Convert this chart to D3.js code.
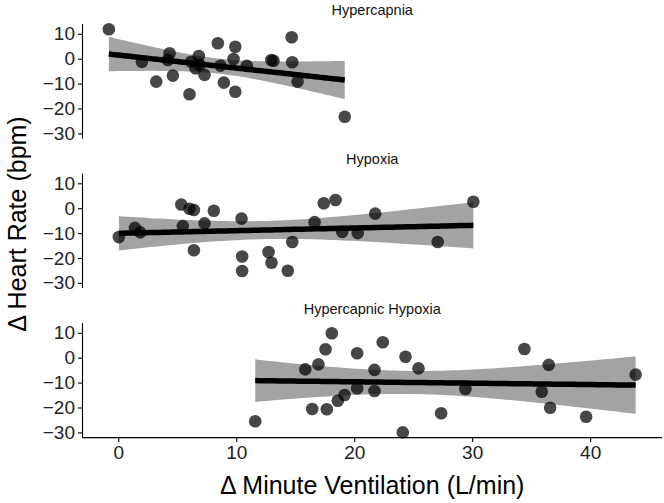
<!DOCTYPE html>
<html>
<head>
<meta charset="utf-8">
<script src="https://cdn.jsdelivr.net/npm/d3@7"></script>
<style>
html,body{margin:0;padding:0;background:#fff;}
svg{display:block;font-family:"Liberation Sans",Arial,Helvetica,sans-serif;}
</style>
</head>
<body>
<svg id="chart" width="664" height="503"></svg>
<script>
// ---- data ----
const panels = ["Hypercapnia", "Hypoxia", "Hypercapnic Hypoxia"];

const hypercapniaX = [-0.8, 2.0, 3.22, 4.35, 4.2, 4.63, 6.04, 6.19, 6.83, 6.55, 7.31, 6.9, 8.44, 8.67, 8.95, 9.92, 9.77, 9.92, 10.9, 12.97, 13.16, 14.7, 14.75, 15.2, 19.2];
const hypercapniaY = [11.8, -1.2, -9.2, 2.2, -0.5, -6.8, -14.3, -1.2, 1.1, -3.9, -6.5, -2.5, 6.2, -2.8, -9.6, 4.8, -0.1, -13.3, -2.9, -0.5, -0.8, 8.6, -1.4, -9.2, -23.3];

const hypoxiaX = [0.05, 1.41, 1.86, 5.34, 5.47, 6.04, 6.41, 6.41, 7.31, 8.1, 10.45, 10.5, 10.5, 12.74, 12.99, 14.37, 14.75, 16.64, 17.42, 18.42, 18.98, 20.3, 21.78, 27.08, 30.1];
const hypoxiaY = [-11.6, -7.9, -9.7, 1.5, -7.2, -0.2, -0.7, -16.9, -6.1, -1.0, -4.2, -19.4, -25.2, -17.6, -21.9, -25.1, -13.6, -5.6, 2.0, 3.3, -9.5, -10.0, -2.2, -13.6, 2.6];

const hcHypoxiaX = [11.61, 15.85, 16.44, 16.97, 17.57, 17.68, 18.1, 18.61, 19.18, 20.25, 20.25, 21.72, 21.72, 22.42, 24.35, 25.45, 24.12, 27.37, 29.43, 34.43, 36.49, 35.9, 36.61, 39.66, 43.86];
const hcHypoxiaY = [-25.5, -4.7, -20.6, -2.7, 3.4, -20.7, 9.8, -17.3, -15.0, 1.8, -12.3, -4.9, -13.4, 6.2, 0.4, -4.3, -30.0, -22.3, -12.6, 3.5, -2.9, -13.7, -20.1, -23.7, -6.8];

const xTicks = [0, 10, 20, 30, 40];
const yTicks = [10, 0, -10, -20, -30];

const xTitle = "\u0394 Minute Ventilation (L/min)";
const yTitle = "\u0394 Heart Rate (bpm)";

const seriesX = [hypercapniaX, hypoxiaX, hcHypoxiaX];
const seriesY = [hypercapniaY, hypoxiaY, hcHypoxiaY];

// ---- layout ----
const W = 664, H = 503;
const plotLeft = 82.5, plotRight = 662;
const panelTop0 = 24.1, panelH = 114.5, panelStep = 149.5;

const svg = d3.select("#chart");

const allX = seriesX.flat(), allY = seriesY.flat();
function expand(ext) { const r = ext[1] - ext[0]; return [ext[0] - 0.05 * r, ext[1] + 0.05 * r]; }

const x = d3.scaleLinear().domain(expand(d3.extent(allX))).range([plotLeft, plotRight]);
const yDomain = expand(d3.extent(allY));

// linear regression with 95% CI (like geom_smooth(method = "lm"))
function lmFit(xs, ys) {
  const n = xs.length;
  const mx = d3.mean(xs), my = d3.mean(ys);
  let sxx = 0, sxy = 0;
  for (let i = 0; i < n; i++) { sxx += (xs[i] - mx) ** 2; sxy += (xs[i] - mx) * (ys[i] - my); }
  const b = sxy / sxx, a = my - b * mx;
  let sse = 0;
  for (let i = 0; i < n; i++) sse += (ys[i] - a - b * xs[i]) ** 2;
  const s = Math.sqrt(sse / (n - 2));
  const t = 2.0687; // t(0.975, df = 23)
  const [lo, hi] = d3.extent(xs);
  const pts = d3.range(80).map(i => {
    const xv = lo + (hi - lo) * i / 79;
    const yv = a + b * xv;
    const se = s * Math.sqrt(1 / n + (xv - mx) ** 2 / sxx);
    return { x: xv, y: yv, lo: yv - t * se, hi: yv + t * se };
  });
  return pts;
}

panels.forEach((name, p) => {
  const top = panelTop0 + p * panelStep;
  const y = d3.scaleLinear().domain(yDomain).range([top + panelH, top]);
  const g = svg.append("g");
  const xs = seriesX[p], ys = seriesY[p];
  const fit = lmFit(xs, ys);

  // band
  g.append("path")
    .datum(fit)
    .attr("fill", "#a3a3a3")
    .attr("d", d3.area().x(d => x(d.x)).y0(d => y(d.lo)).y1(d => y(d.hi)));

  // fit line
  g.append("path")
    .datum(fit)
    .attr("fill", "none")
    .attr("stroke", "#000")
    .attr("stroke-width", 5.5)
    .attr("d", d3.line().x(d => x(d.x)).y(d => y(d.y)));

  // points
  g.selectAll("circle")
    .data(xs.map((v, i) => [v, ys[i]]))
    .join("circle")
    .attr("cx", d => x(d[0]))
    .attr("cy", d => y(d[1]))
    .attr("r", 6.3)
    .attr("fill", "#000")
    .attr("fill-opacity", 0.72);

  // y axis
  const ya = g.append("g")
    .attr("transform", `translate(${plotLeft},0)`)
    .call(d3.axisLeft(y).tickValues(yTicks).tickSize(4.5).tickPadding(3));
  ya.select(".domain").attr("stroke", "#000").attr("stroke-width", 1.1)
    .attr("d", `M0,${top + panelH}V${top}`);
  ya.selectAll(".tick line").attr("stroke", "#000").attr("stroke-width", 1.1);
  ya.selectAll(".tick text").attr("fill", "#222").style("font-size", "19px")
    .style("font-family", "'Liberation Sans', Arial, sans-serif");

  // strip title
  svg.append("text")
    .attr("x", (plotLeft + plotRight) / 2)
    .attr("y", top - 9.6)
    .attr("text-anchor", "middle")
    .style("font-size", "14.5px")
    .attr("fill", "#111")
    .text(name);

  if (p === panels.length - 1) {
    const xa = g.append("g")
      .attr("transform", `translate(0,${top + panelH})`)
      .call(d3.axisBottom(x).tickValues(xTicks).tickSize(4.5).tickPadding(3));
    xa.select(".domain").attr("stroke", "#000").attr("stroke-width", 1.1)
      .attr("d", `M${plotLeft},0H${plotRight}`);
    xa.selectAll(".tick line").attr("stroke", "#000").attr("stroke-width", 1.1);
    xa.selectAll(".tick text").attr("fill", "#222").style("font-size", "19px")
      .style("font-family", "'Liberation Sans', Arial, sans-serif");
  }
});

// axis titles
svg.append("text")
  .attr("x", (plotLeft + plotRight) / 2)
  .attr("y", 494)
  .attr("text-anchor", "middle")
  .style("font-size", "25px")
  .attr("fill", "#000")
  .text(xTitle);

svg.append("text")
  .attr("transform", `translate(26,224) rotate(-90)`)
  .attr("text-anchor", "middle")
  .style("font-size", "25px")
  .attr("fill", "#000")
  .text(yTitle);
</script>
</body>
</html>
